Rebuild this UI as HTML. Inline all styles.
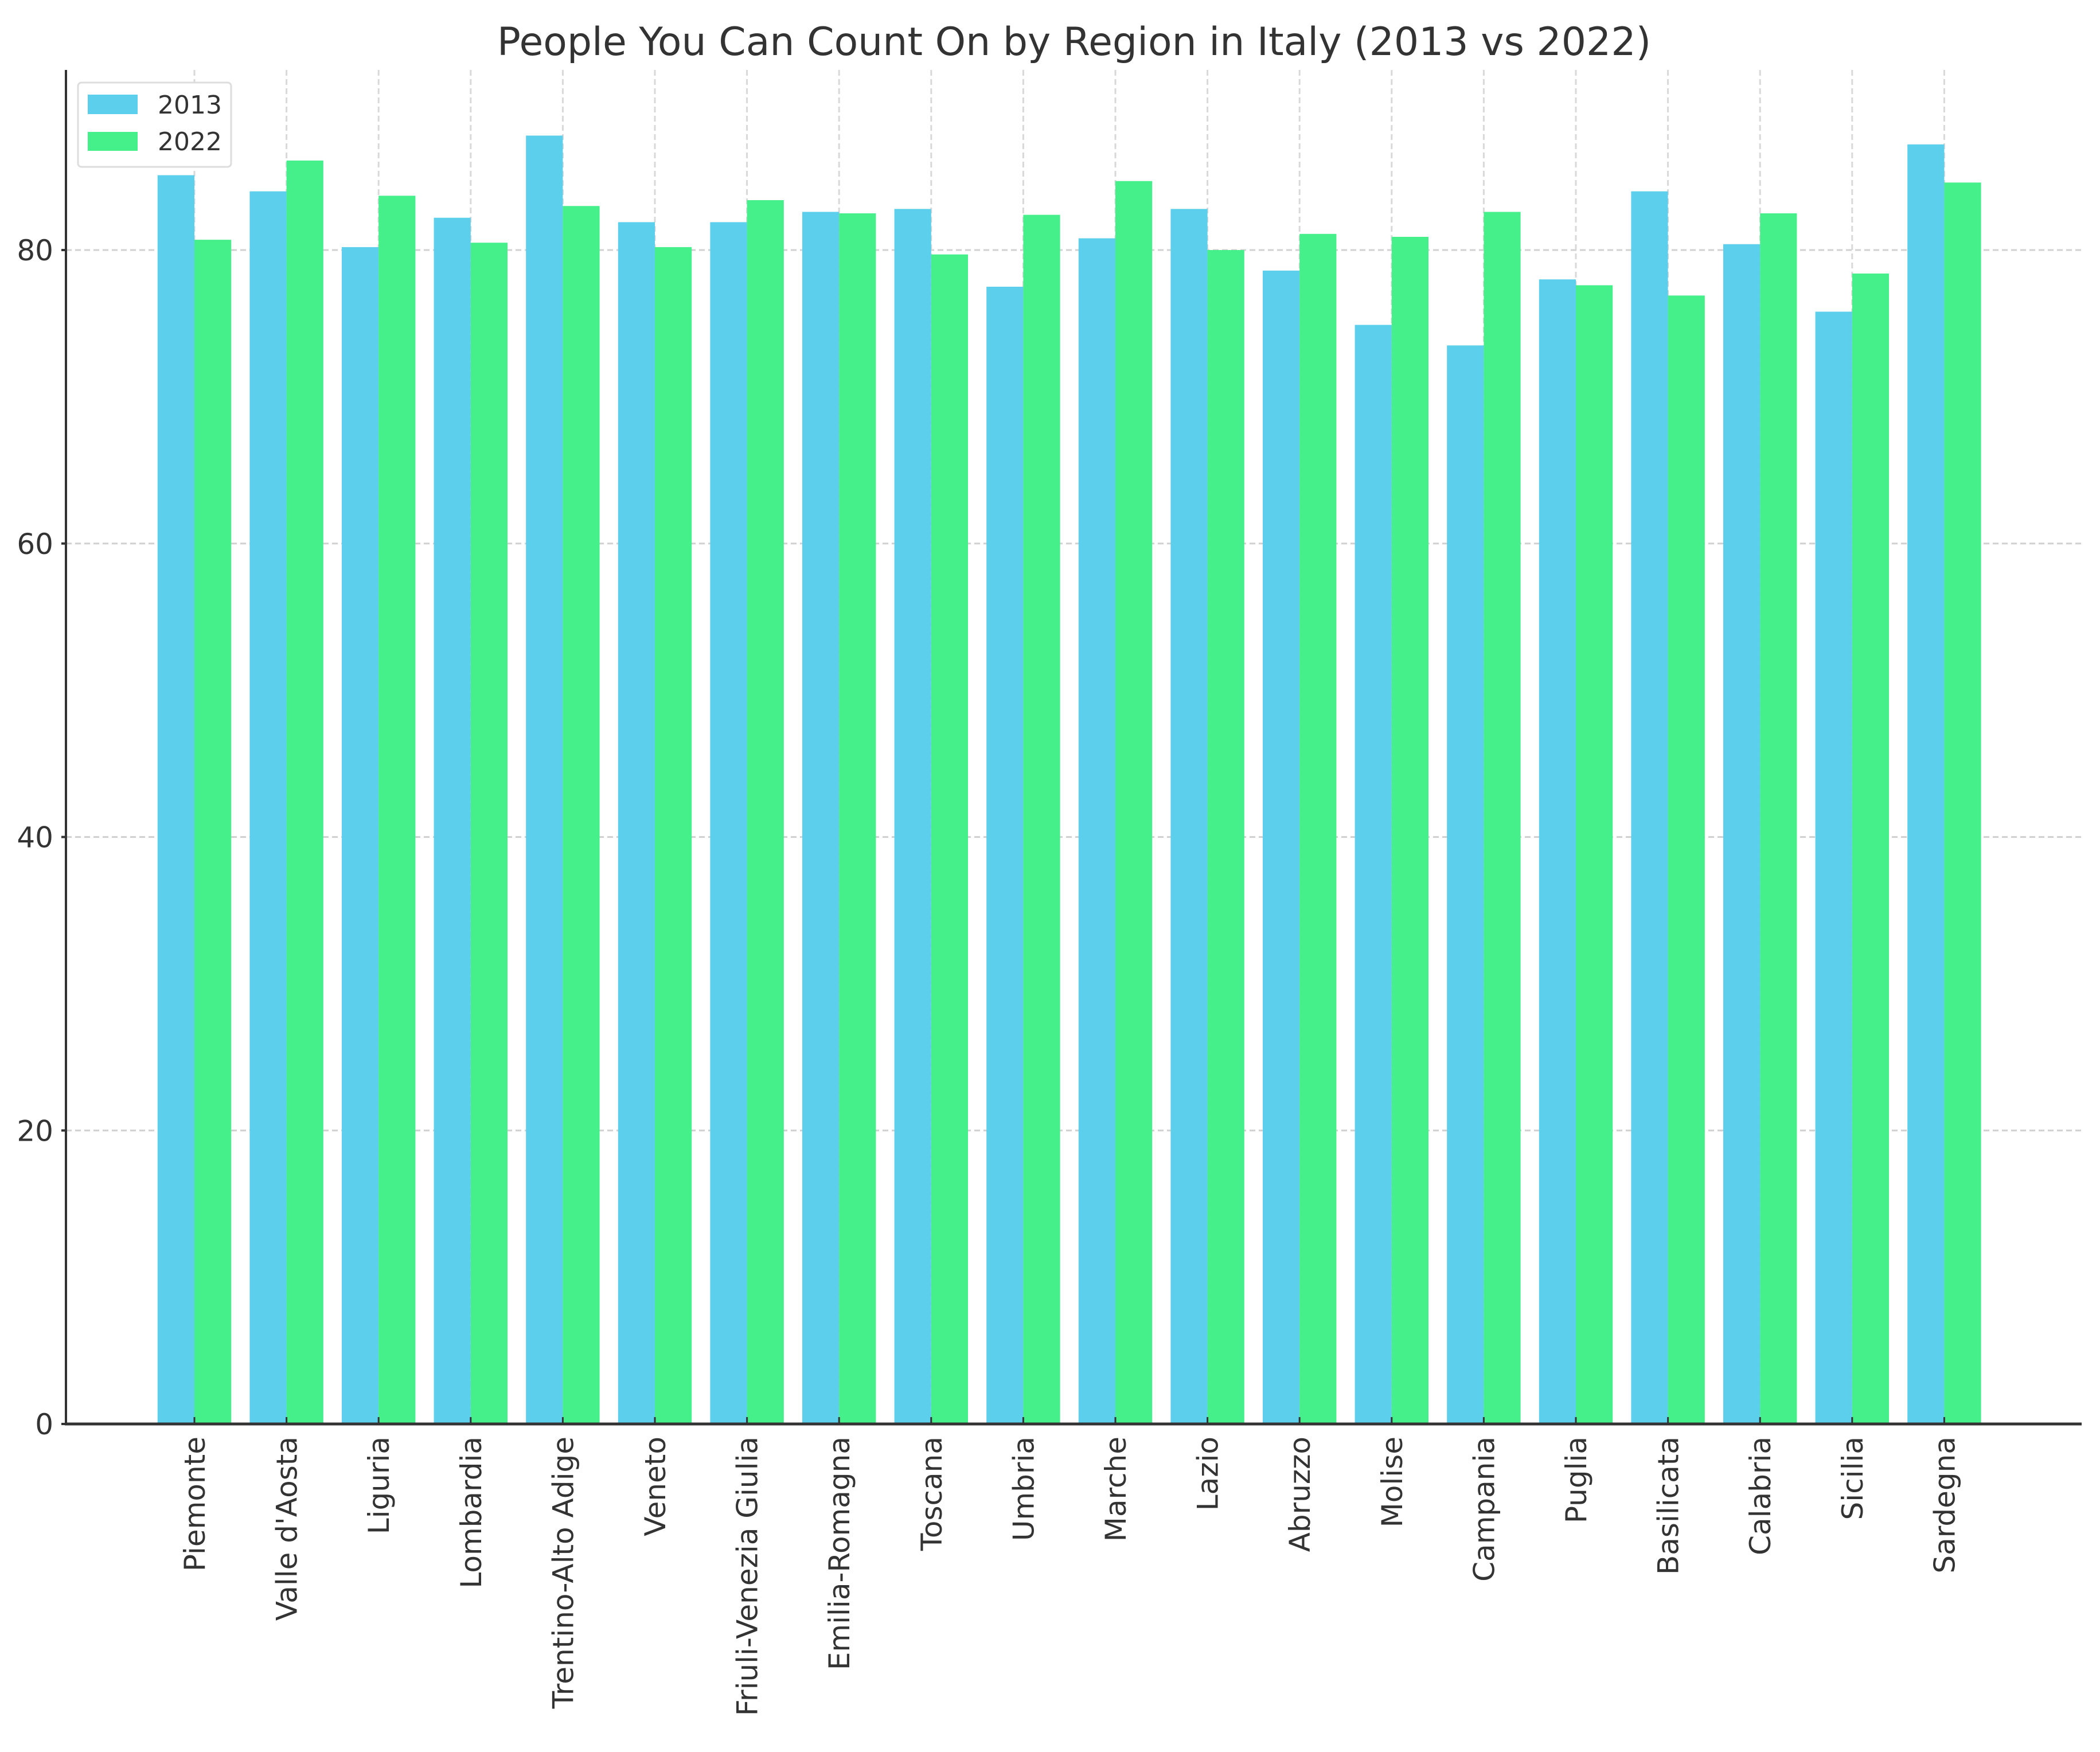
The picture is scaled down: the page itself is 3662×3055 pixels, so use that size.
<!DOCTYPE html>
<html><head><meta charset="utf-8"><style>
html,body{margin:0;padding:0;background:#fff;}
svg{display:block;font-family:"DejaVu Sans","Liberation Sans",sans-serif;}
</style></head><body>
<svg id="chart" width="3662" height="3055" viewBox="0 0 3662 3055" xmlns="http://www.w3.org/2000/svg">
<text x="1873" y="96" font-size="68" fill="#333" text-anchor="middle">People You Can Count On by Region in Italy (2013 vs 2022)</text>
<g id="grid"></g><g id="bars"></g><g id="axes"></g>
<g>
<rect x="136" y="144" width="267" height="147" rx="6" fill="#fff" stroke="#ddd" stroke-width="3"/>
<rect x="153" y="165" width="87" height="34" fill="#5bcfec"/>
<text x="275" y="198" font-size="44" fill="#333">2013</text>
<rect x="153" y="230" width="87" height="33" fill="#45ef8a"/>
<text x="275" y="262" font-size="44" fill="#333">2022</text>
</g>
</svg>
<script>
const categories=["Piemonte","Valle d'Aosta","Liguria","Lombardia","Trentino-Alto Adige","Veneto","Friuli-Venezia Giulia","Emilia-Romagna","Toscana","Umbria","Marche","Lazio","Abruzzo","Molise","Campania","Puglia","Basilicata","Calabria","Sicilia","Sardegna"];
const values2013=[85.1,84.0,80.2,82.2,87.8,81.9,81.9,82.6,82.8,77.5,80.8,82.8,78.6,74.9,73.5,78.0,84.0,80.4,75.8,87.2];
const values2022=[80.7,86.1,83.7,80.5,83.0,80.2,83.4,82.5,79.7,82.4,84.7,80.0,81.1,80.9,82.6,77.6,76.9,82.5,78.4,84.6];
const yTicks=[0,20,40,60,80];
const NS="http://www.w3.org/2000/svg";
const plotLeft=115,plotRight=3630,plotTop=122,y0=2483,y80=436;
function yScale(v){return y0-(y0-y80)*v/80;}
function xScale(i){return 339+160.6*i;}
const bw=64.2;
function mk(tag,attrs,parent){const e=document.createElementNS(NS,tag);for(const k in attrs)e.setAttribute(k,attrs[k]);parent.appendChild(e);return e;}
const grid=document.getElementById('grid'),bars=document.getElementById('bars'),axes=document.getElementById('axes');
yTicks.forEach(t=>{
  const y=yScale(t);
  if(t>0){const g=mk('line',{x1:plotLeft,x2:plotRight,y1:y,y2:y,stroke:'#d0d0d0','stroke-width':3,'stroke-dasharray':'10 6'},grid);
  
  }
  const tk=mk('line',{x1:plotLeft-8,x2:plotLeft,y1:y,y2:y,stroke:'#333','stroke-width':4},axes);
  
  
  const tx=mk('text',{x:plotLeft-22,y:y+18,'font-size':50,'text-anchor':'end',fill:'#333'},axes);
  tx.textContent=t;
  
  
});
categories.forEach((c,i)=>{
  const x=xScale(i);
  const g=mk('line',{x1:x,x2:x,y1:plotTop,y2:y0,stroke:'#d8d8d8','stroke-width':3,'stroke-dasharray':'10 6'},grid);
  
  
  const b1=mk('rect',{x:x-bw,y:yScale(values2013[i]),width:bw,height:y0-yScale(values2013[i]),fill:'#5bcfec'},bars);
  
  
  const b2=mk('rect',{x:x,y:yScale(values2022[i]),width:bw,height:y0-yScale(values2022[i]),fill:'#45ef8a'},bars);
  
  
  const tk=mk('line',{x1:x,x2:x,y1:y0,y2:y0-12,stroke:'#333','stroke-width':3},axes);
  
  
  const tx=mk('text',{x:0,y:0,'font-size':50,'text-anchor':'end',fill:'#333',transform:`translate(${x+18},${y0+22}) rotate(-90)`},axes);
  tx.textContent=c;
  
  
});
const ya=mk('line',{x1:plotLeft,x2:plotLeft,y1:plotTop,y2:y0+2,stroke:'#333','stroke-width':4},axes);


const xa=mk('line',{x1:plotLeft-2,x2:plotRight,y1:y0,y2:y0,stroke:'#333','stroke-width':5},axes);


</script>
</body></html>
